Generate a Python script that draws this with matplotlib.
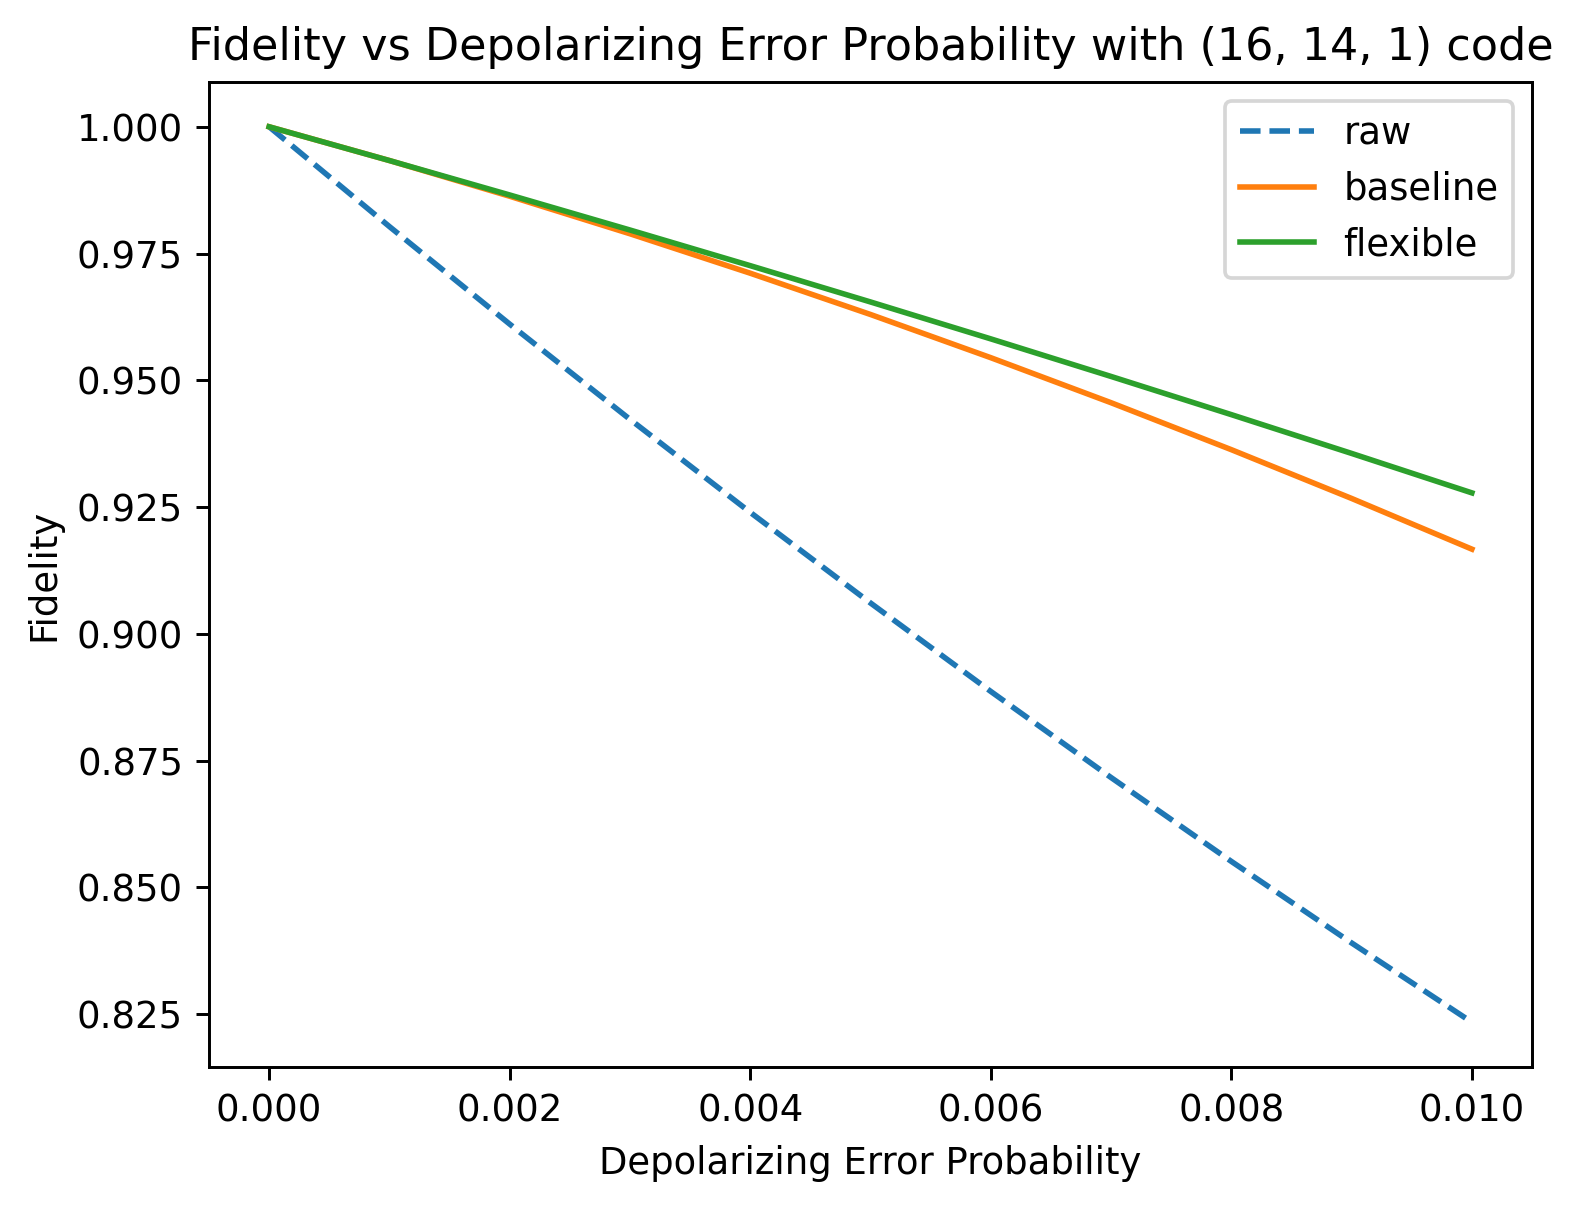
import matplotlib
matplotlib.use("Agg")
import matplotlib.pyplot as plt

p = [0.000, 0.001, 0.002, 0.003, 0.004, 0.005, 0.006, 0.007, 0.008, 0.009, 0.010]
raw = [1.0, 0.98032, 0.96108, 0.94230, 0.92396, 0.90608, 0.88864, 0.87166, 0.85512, 0.83904, 0.8234]
baseline = [1.0, 0.99334, 0.98630, 0.97890, 0.97112, 0.96298, 0.95446, 0.94558, 0.93632, 0.92670, 0.9167]
flexible = [1.0, 0.99334, 0.98655, 0.97964, 0.97261, 0.96545, 0.95817, 0.95076, 0.94323, 0.93558, 0.9278]

DPI = 266.67
W, H = 1579, 1207
fig = plt.figure(figsize=(W / DPI, H / DPI), dpi=DPI)
ax = fig.add_axes([209 / W, (H - 1067) / H, (1532 - 209) / W, (1067 - 82) / H])

ax.plot(p, raw, linestyle="--", label="raw")
ax.plot(p, baseline, label="baseline")
ax.plot(p, flexible, label="flexible")

ax.set_xlabel("Depolarizing Error Probability")
ax.set_ylabel("Fidelity")
ax.set_title("Fidelity vs Depolarizing Error Probability with (16, 14, 1) code")
ax.legend(loc="upper right")

fig.savefig("out.png", dpi=DPI)
